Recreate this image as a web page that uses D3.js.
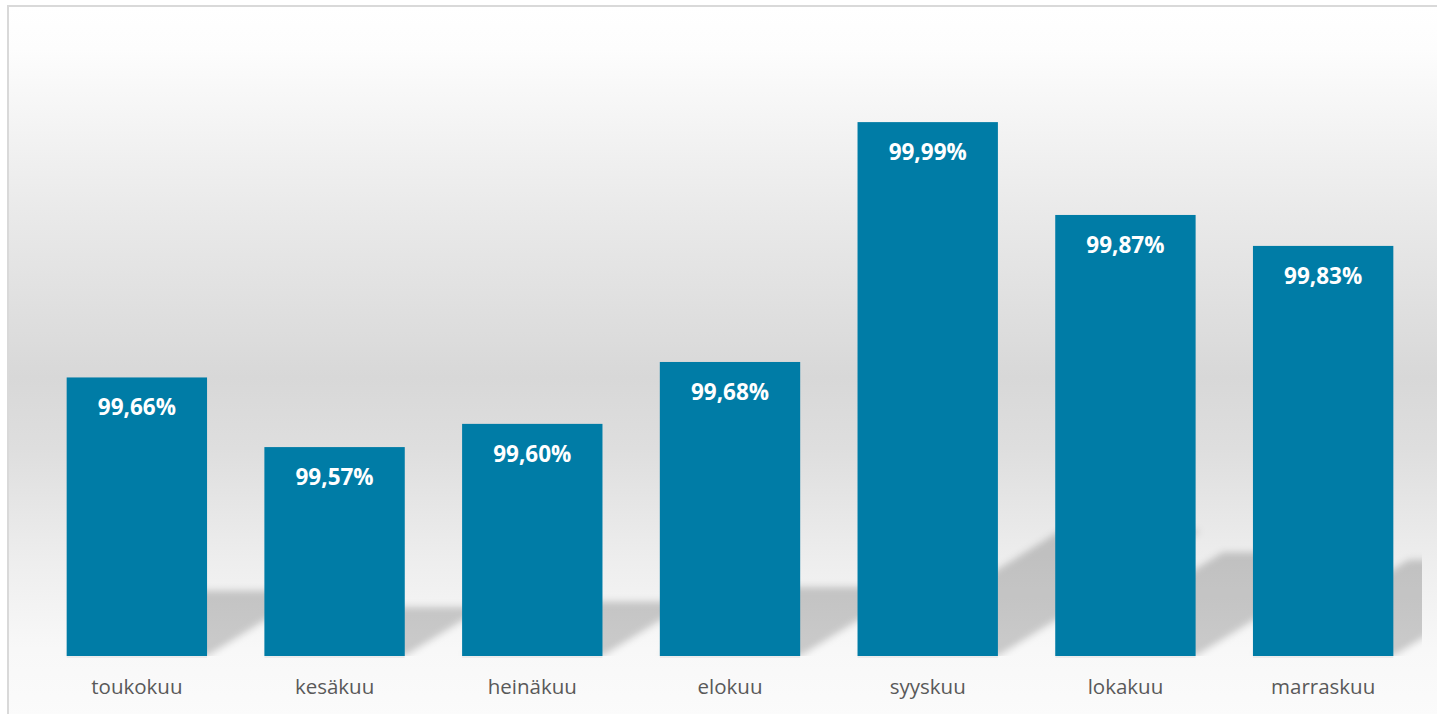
<!DOCTYPE html>
<html>
<head>
<meta charset="utf-8">
<script src="https://cdn.jsdelivr.net/npm/d3@7"></script>
<style>
  html, body { margin: 0; padding: 0; background: #ffffff; overflow: hidden; }
  svg { display: block; }
</style>
</head>
<body>
<svg id="chart" width="1437" height="714"></svg>
<script>
// ---- data ----
const categories = ["toukokuu", "kesäkuu", "heinäkuu", "elokuu", "syyskuu", "lokakuu", "marraskuu"];
const values = [99.66, 99.57, 99.60, 99.68, 99.99, 99.87, 99.83];
const valueLabels = ["99,66%", "99,57%", "99,60%", "99,68%", "99,99%", "99,87%", "99,83%"];
const yDomain = [99.3, 100.1];

// ---- layout ----
const W = 1437, H = 714;
const plot = { left: 38, right: 1422, top: 37, bottom: 656 };
const barColor = "#007ca6";

const svg = d3.select("#chart");
const defs = svg.append("defs");

// background gradient
const bg = defs.append("linearGradient").attr("id", "bgGrad")
  .attr("x1", 0).attr("y1", 0).attr("x2", 0).attr("y2", 1);
[[0, "#ffffff"], [0.06, "#fdfdfd"], [0.27, "#ebebeb"], [0.52, "#d8d8d8"], [0.62, "#dedede"], [0.78, "#eeeeee"], [0.9, "#f8f8f8"], [1, "#fbfbfb"]]
  .forEach(([o, c]) => bg.append("stop").attr("offset", o).attr("stop-color", c));

const blur = defs.append("filter").attr("id", "shBlur")
  .attr("x", "-20%").attr("y", "-20%").attr("width", "140%").attr("height", "140%");
blur.append("feGaussianBlur").attr("stdDeviation", 3.5);

defs.append("clipPath").attr("id", "plotClip")
  .append("rect").attr("x", plot.left).attr("y", 0)
  .attr("width", plot.right - plot.left).attr("height", plot.bottom);

svg.append("rect").attr("x", 8).attr("y", 6).attr("width", W).attr("height", H)
  .attr("fill", "url(#bgGrad)").attr("stroke", "#d9d9d9").attr("stroke-width", 2);

const x = d3.scaleBand().domain(categories).range([plot.left, plot.right])
  .paddingInner(0.29).paddingOuter(0.145);
const y = d3.scaleLinear().domain(yDomain).range([plot.bottom, plot.top]);

const data = categories.map((c, i) => ({ cat: c, v: values[i], label: valueLabels[i] }));

// perspective shadows
const skew = 0.38, squash = 0.235;
const shadowG = svg.append("g").attr("clip-path", "url(#plotClip)");
shadowG.selectAll("path.sh").data(data).join("path")
  .attr("class", "sh")
  .attr("d", d => {
    const x0 = x(d.cat), x1 = x(d.cat) + x.bandwidth();
    const yb = y(yDomain[0]);
    const h = yb - y(d.v);
    return `M${x0},${yb}L${x1},${yb}L${x1 + skew * h},${yb - squash * h}L${x0 + skew * h},${yb - squash * h}Z`;
  })
  .attr("fill", "#000").attr("fill-opacity", 0.19)
  .attr("filter", "url(#shBlur)");

// faint shadow under bar bottoms
svg.append("g").selectAll("rect.base").data(data).join("rect")
  .attr("x", d => x(d.cat)).attr("y", y(yDomain[0]))
  .attr("width", x.bandwidth()).attr("height", 2)
  .attr("fill", "#000").attr("fill-opacity", 0.05);

// bars
svg.append("g").selectAll("rect.bar").data(data).join("rect")
  .attr("class", "bar")
  .attr("x", d => x(d.cat)).attr("y", d => y(d.v))
  .attr("width", x.bandwidth()).attr("height", d => y(yDomain[0]) - y(d.v))
  .attr("fill", barColor);

// value labels
svg.append("g").selectAll("text.val").data(data).join("text")
  .attr("x", d => x(d.cat) + x.bandwidth() / 2)
  .attr("y", d => y(d.v) + 38)
  .attr("text-anchor", "middle")
  .attr("font-family", "'Open Sans', sans-serif")
  .attr("font-weight", 700)
  .attr("font-size", 22.5)
  .attr("fill", "#ffffff")
  .text(d => d.label);

// category axis
const axis = svg.append("g").attr("transform", `translate(0,${plot.bottom})`)
  .call(d3.axisBottom(x).tickSize(0).tickPadding(0));
axis.select(".domain").remove();
axis.selectAll("text")
  .attr("y", 38).attr("dy", 0)
  .attr("font-family", "'Open Sans', sans-serif")
  .attr("font-size", 20.5)
  .attr("fill", "#595959");
</script>
</body>
</html>
